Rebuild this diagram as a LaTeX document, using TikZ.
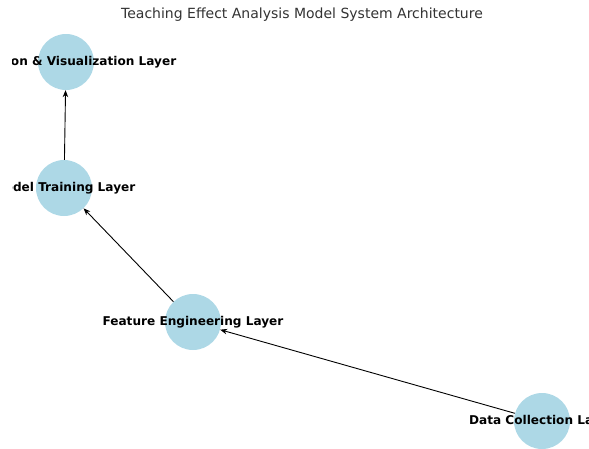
\documentclass[tikz,border=0pt]{standalone}
\usepackage{fontspec}
\setmainfont{DejaVu Sans}
\usetikzlibrary{arrows.meta}
\definecolor{nodeblue}{HTML}{ADD8E6}
\definecolor{titlegray}{HTML}{333333}
\begin{document}
\begin{tikzpicture}[x=1pt,y=-1pt,
  layer/.style={circle,fill=nodeblue,draw=none,minimum size=56pt,inner sep=0pt},
  lab/.style={font=\fontsize{12.1}{14}\selectfont\bfseries,text=black,inner sep=0pt},
  conn/.style={draw=black,line width=0.9pt,-{Stealth[length=7pt,width=5.5pt]}}]
\useasboundingbox (0,0) rectangle (589,448);
\node[layer] (viz) at (66,62) {};
\node[layer] (model) at (64,188) {};
\node[layer] (feat) at (193,322) {};
\node[layer] (data) at (542,421) {};
\draw[conn] (data) -- (feat);
\draw[conn] (feat) -- (model);
\draw[conn] (model) -- (viz);
\begin{scope}
\clip (12.5,0) rectangle (589,448);
\node[lab] (vizl) at (viz) {Evaluation \& Visualization Layer};
\node[lab] (modell) at (model) {Model Training Layer};
\node[lab] (featl) at (feat) {Feature Engineering Layer};
\node[lab] (datal) at (data) {Data Collection Layer};
\end{scope}
\node[font=\fontsize{14}{16}\selectfont,text=titlegray] (title) at (302,15) {Teaching Effect Analysis Model System Architecture};
\end{tikzpicture}
\end{document}
